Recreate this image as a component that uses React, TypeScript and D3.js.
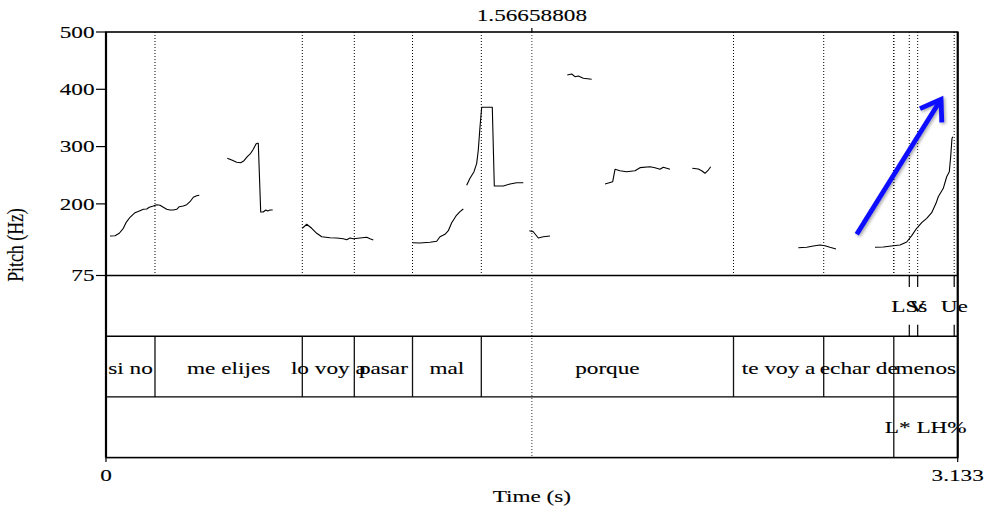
import React from "react";
import * as d3 from "d3";

const W = 987;
const H = 510;

// time axis and cursor
const T_END = 3.133;
const CURSOR = 1.56658808;
const pitchTicks = [75, 200, 300, 400, 500];

// tier 1: point tier
const pointTimes = [2.9549, 2.9858, 3.1201];
const pointLabels = ["LSs", "V", "Ue"];

// tier 2: words
const wordBounds = [0, 0.1802, 0.7221, 0.9134, 1.1275, 1.3806, 2.3083, 2.6401, 2.8979, 3.133];
const wordLabels = ["si no", "me elijes", "lo voy a", "pasar", "mal", "porque", "te voy a", "echar de", "menos"];

// tier 3: tones
const toneBounds = [0, 2.8979, 3.133];
const toneLabels = ["", "L* LH%"];

// pitch contour pieces [time s, Hz]
const seg1 = [
  [0.0147, 143.9], [0.0331, 144.5], [0.0489, 148.7], [0.0636, 157.4], [0.0736, 167.2],
  [0.0883, 176.6], [0.1067, 184.6], [0.1251, 188.1], [0.1372, 190.5], [0.1497, 191.1],
  [0.1593, 194.0], [0.174, 196.3], [0.1865, 198.6], [0.1986, 197.5], [0.2108, 194.0],
  [0.2233, 190.5], [0.2354, 189.3], [0.2476, 189.3], [0.2601, 190.5], [0.2696, 195.1],
  [0.2843, 196.3], [0.2969, 198.6], [0.309, 203.8], [0.3211, 211.5], [0.3336, 214.3],
  [0.3432, 215.0],
];
const seg2 = [
  [0.4462, 279.6], [0.4624, 276.6], [0.4808, 272.6], [0.4955, 271.9], [0.5076, 275.4],
  [0.5198, 282.4], [0.5323, 288.3], [0.5418, 295.3], [0.5518, 304.5], [0.5566, 305.7],
  [0.5602, 305.7], [0.5691, 185.8], [0.5786, 185.8], [0.5875, 189.3], [0.5948, 187.6],
  [0.6033, 189.3], [0.6132, 189.3],
];
const seg3 = [
  [0.7221, 157.4], [0.7383, 164.4], [0.7567, 157.4], [0.7751, 148.7], [0.7935, 142.7],
  [0.824, 141.0], [0.8486, 140.5], [0.8729, 139.2], [0.8854, 137.5], [0.8976, 140.5],
  [0.9097, 139.2], [0.9343, 140.5], [0.959, 141.7], [0.9711, 139.2], [0.9833, 137.0],
];
const seg4 = [
  [1.1282, 132.2], [1.155, 131.7], [1.1918, 133.0], [1.2165, 134.7], [1.2286, 142.7],
  [1.247, 146.9], [1.2592, 153.2], [1.2717, 167.2], [1.2875, 178.9], [1.3022, 186.4],
  [1.3143, 191.1],
];
const seg5 = [
  [1.3268, 232.4], [1.339, 244.7], [1.3537, 256.2], [1.3636, 270.8], [1.3695, 294.0],
  [1.3758, 334.7], [1.382, 368.6], [1.4004, 368.6], [1.421, 368.6], [1.4284, 231.2],
  [1.4493, 231.2], [1.4615, 231.2], [1.4861, 234.7], [1.5108, 237.0], [1.535, 237.0],
];
const seg6 = [[1.5571, 153.2], [1.5718, 151.4], [1.5902, 140.5], [1.6086, 142.7], [1.6333, 143.9]];
const seg7 = [[1.6969, 425.0], [1.7131, 426.7], [1.7252, 422.0], [1.7374, 423.2], [1.7558, 419.2], [1.7866, 417.5]];
const seg8 = [
  [1.8356, 234.7], [1.8639, 238.7], [1.8724, 260.4], [1.8907, 257.9], [1.9154, 256.2],
  [1.9459, 257.9], [1.9643, 263.2], [2.0011, 264.9], [2.0195, 263.2], [2.0379, 260.4],
  [2.05, 263.9], [2.0625, 262.1], [2.0747, 260.4],
];
const seg9 = [[2.1567, 262.1], [2.1788, 260.9], [2.1913, 257.9], [2.2034, 253.4], [2.2156, 259.1], [2.2244, 264.9]];
const seg10 = [
  [2.5466, 123.5], [2.5775, 124.2], [2.6018, 126.5], [2.6264, 128.2], [2.6448, 127.0],
  [2.6632, 124.2], [2.6853, 121.3],
];
const seg11 = [
  [2.8288, 124.2], [2.8593, 124.7], [2.8961, 127.0], [2.9207, 128.2], [2.9454, 133.5],
  [2.9638, 144.5], [2.9822, 157.4], [3.0006, 167.2], [3.019, 174.8], [3.0373, 184.6],
  [3.0532, 201.0], [3.0616, 212.5], [3.08, 227.2], [3.0925, 247.4], [3.1021, 256.2],
  [3.1072, 282.4], [3.112, 314.5], [3.1157, 317.3],
];
const pitchSegments = [seg1, seg2, seg3, seg4, seg5, seg6, seg7, seg8, seg9, seg10, seg11];

// blue annotation arrow [time, Hz]
const arrowFrom = [2.7615, 146.9];
const arrowTo = [3.0716, 382.5];

const FONT = "'Liberation Serif','Times New Roman',serif";
const SX = 1.32;

const Txt = ({ x, y, anchor = "middle", size = 17.6, children }: any) => (
  <text
    transform={`translate(${x},${y}) scale(${SX},1)`}
    textAnchor={anchor}
    fontSize={size}
    fontFamily={FONT}
    fill="#000"
    stroke="#000"
    strokeWidth={0.12}
  >
    {children}
  </text>
);

export default function App() {
  const left = 106;
  const right = 957.7;
  const top = 32;
  const pitchBottom = 275.5;
  const tierH = 60.7;
  const t1 = pitchBottom;
  const t2 = t1 + tierH;
  const t3 = t2 + tierH;
  const bottom = t3 + tierH;

  const x = d3.scaleLinear().domain([0, T_END]).range([left, right]);
  const y = d3.scaleLinear().domain([75, 500]).range([pitchBottom, top]);

  const pitchLine = d3
    .line<number[]>()
    .x((d) => x(d[0]))
    .y((d) => y(d[1]));

  // every boundary of every tier gets a dotted line in the pitch panel
  const dotted = [
    ...wordBounds.slice(1, -1),
    ...pointTimes,
    ...toneBounds.slice(1, -1),
  ];

  // arrow geometry
  const ax0 = x(arrowFrom[0]);
  const ay0 = y(arrowFrom[1]);
  const ax1 = x(arrowTo[0]);
  const ay1 = y(arrowTo[1]);
  const ang = Math.atan2(ay1 - ay0, ax1 - ax0);
  const headLen = 23;
  const headAng = (34 * Math.PI) / 180;
  const h1 = [ax1 - headLen * Math.cos(ang - headAng), ay1 - headLen * Math.sin(ang - headAng)];
  const h2 = [ax1 - headLen * Math.cos(ang + headAng), ay1 - headLen * Math.sin(ang + headAng)];

  return (
    <div style={{ position: "fixed", left: 0, top: 0 }}>
      <svg width={W} height={H} style={{ display: "block", background: "#fff" }}>
        <defs>
          <filter id="shadow" x="-20%" y="-20%" width="140%" height="140%">
            <feDropShadow dx="1.5" dy="1.5" stdDeviation="1.5" floodColor="#000" floodOpacity="0.35" />
          </filter>
        </defs>

        {/* dotted boundary lines in pitch panel */}
        {dotted.map((t, i) => (
          <line
            key={"d" + i}
            x1={x(t)}
            x2={x(t)}
            y1={top}
            y2={pitchBottom}
            stroke="#000"
            strokeWidth={1}
            strokeDasharray="1,2"
          />
        ))}

        {/* cursor */}
        <line x1={x(CURSOR)} x2={x(CURSOR)} y1={top} y2={bottom} stroke="#333" strokeWidth={1} strokeDasharray="1,2" />
        <line x1={x(CURSOR)} x2={x(CURSOR)} y1={top - 4} y2={top} stroke="#000" strokeWidth={1.2} />
        <Txt x={x(CURSOR)} y={20.5}>{CURSOR.toFixed(8)}</Txt>

        {/* pitch contour */}
        {pitchSegments.map((s, i) => (
          <path key={"p" + i} d={pitchLine(s) || ""} fill="none" stroke="#000" strokeWidth={1.1} strokeLinejoin="round" />
        ))}

        {/* tier 1: points */}
        {pointTimes.map((t, i) => (
          <g key={"pt" + i}>
            <line x1={x(t)} x2={x(t)} y1={t1} y2={t1 + 11.5} stroke="#000" strokeWidth={1.2} />
            <line x1={x(t)} x2={x(t)} y1={t2 - 11.5} y2={t2} stroke="#000" strokeWidth={1.2} />
            <Txt x={x(t)} y={t1 + 36.5}>{pointLabels[i]}</Txt>
          </g>
        ))}

        {/* tier 2: words */}
        {wordBounds.slice(1, -1).map((t, i) => (
          <line key={"wb" + i} x1={x(t)} x2={x(t)} y1={t2} y2={t3} stroke="#111" strokeWidth={1.3} />
        ))}
        {wordLabels.map((lab, i) => (
          <Txt key={"wl" + i} x={(x(wordBounds[i]) + x(wordBounds[i + 1])) / 2} y={t2 + 37.5}>
            {lab}
          </Txt>
        ))}

        {/* tier 3: tones */}
        {toneBounds.slice(1, -1).map((t, i) => (
          <line key={"tb" + i} x1={x(t)} x2={x(t)} y1={t3} y2={bottom} stroke="#111" strokeWidth={1.3} />
        ))}
        {toneLabels.map((lab, i) => (
          <Txt key={"tl" + i} x={(x(toneBounds[i]) + x(toneBounds[i + 1])) / 2} y={t3 + 36}>
            {lab}
          </Txt>
        ))}

        {/* tier separators and frame */}
        {[t1, t2, t3].map((v, i) => (
          <line key={"h" + i} x1={left} x2={right} y1={v} y2={v} stroke="#000" strokeWidth={1.4} />
        ))}
        <rect x={left} y={top} width={right - left} height={bottom - top} fill="none" stroke="#000" strokeWidth={1.6} />
        <line x1={left} x2={left} y1={top} y2={bottom} stroke="#000" strokeWidth={2.2} />
        <line x1={right} x2={right} y1={top} y2={bottom} stroke="#000" strokeWidth={2} />

        {/* pitch axis */}
        {pitchTicks.map((v) => (
          <g key={"yt" + v}>
            <line x1={left - 10} x2={left} y1={y(v)} y2={y(v)} stroke="#000" strokeWidth={1.2} />
            <Txt x={left - 11.5} y={y(v) + 5.8} anchor="end">
              {v}
            </Txt>
          </g>
        ))}
        <text
          transform={`translate(23,245) rotate(-90) scale(1,1.3)`}
          textAnchor="middle"
          fontSize={17.8}
          fontFamily={FONT}
          stroke="#000"
          strokeWidth={0.12}
        >
          Pitch (Hz)
        </text>

        {/* time axis */}
        {[0, T_END].map((t, i) => (
          <g key={"xt" + i}>
            <line x1={x(t)} x2={x(t)} y1={bottom} y2={bottom + 4.5} stroke="#000" strokeWidth={1.2} />
            <Txt x={x(t)} y={481}>{t === 0 ? "0" : t.toFixed(3)}</Txt>
          </g>
        ))}
        <Txt x={x(CURSOR)} y={501.5}>Time (s)</Txt>

        {/* blue arrow */}
        <g filter="url(#shadow)" stroke="#0a0aff" strokeWidth={4.8} strokeLinecap="butt" fill="none">
          <line x1={ax0} y1={ay0} x2={ax1} y2={ay1} />
          <polyline points={`${h1[0]},${h1[1]} ${ax1},${ay1} ${h2[0]},${h2[1]}`} strokeLinejoin="miter" />
        </g>
      </svg>
    </div>
  );
}
